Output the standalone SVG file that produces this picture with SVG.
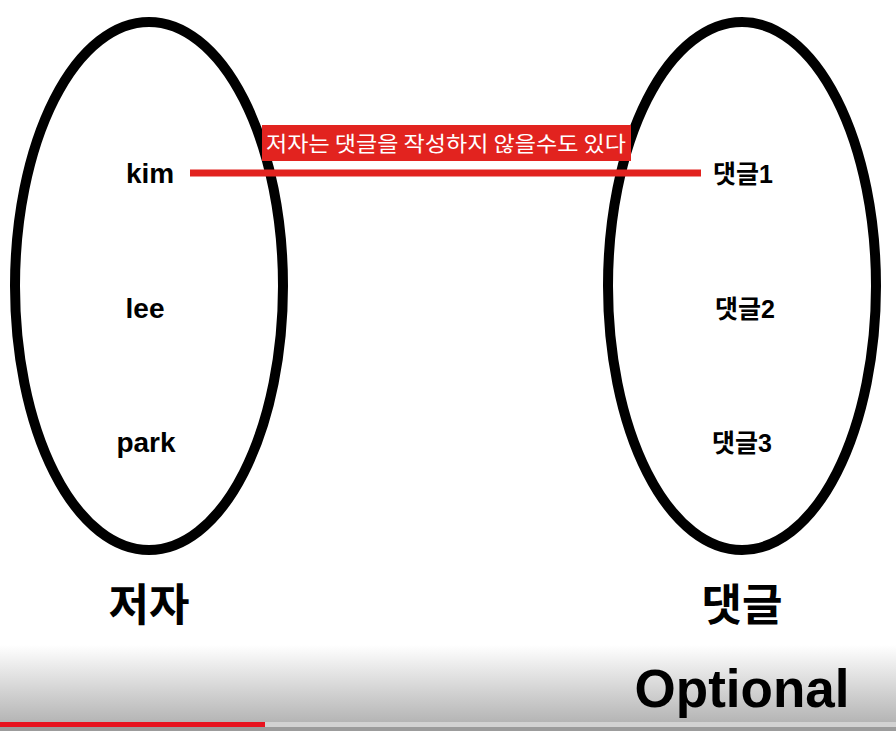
<svg xmlns="http://www.w3.org/2000/svg" width="896" height="731" viewBox="0 0 896 731">
<style>
.set{fill:none;stroke:#000;stroke-width:10}
.lbl{font-family:"Liberation Sans","Noto Sans CJK KR",sans-serif;font-weight:bold;fill:#000;text-anchor:middle}
.item{font-size:28px}
.kitem{font-size:25px}
.title{font-family:"Noto Sans CJK KR",sans-serif;font-weight:bold;font-size:44px;fill:#000;text-anchor:middle}
.note{font-family:"Noto Sans CJK KR",sans-serif;font-size:21px;fill:#fff;text-anchor:middle}
</style>
<defs>
<linearGradient id="shade" x1="0" y1="0" x2="0" y2="1">
<stop offset="0" stop-color="#ffffff"/>
<stop offset="1" stop-color="#b4b4b4"/>
</linearGradient>
</defs>
<rect width="896" height="731" fill="#fff"/>
<rect x="0" y="645" width="896" height="78" fill="url(#shade)"/>
<rect x="0" y="722" width="896" height="5" fill="#d2d2d2"/>
<rect x="0" y="722" width="265" height="5" fill="#e8131f"/>
<rect x="0" y="727" width="896" height="4" fill="#9c9c9c"/>
<g id="authors">
<ellipse class="set" cx="149" cy="286" rx="134" ry="264"/>
<text class="lbl item" x="150" y="183">kim</text>
<text class="lbl item" x="145" y="318">lee</text>
<text class="lbl item" x="146" y="452">park</text>
<text class="title" x="149" y="621">저자</text>
</g>
<g id="comments">
<ellipse class="set" cx="742" cy="286" rx="134" ry="264"/>
<text class="lbl kitem" x="743" y="183">댓글1</text>
<text class="lbl kitem" x="745" y="318">댓글2</text>
<text class="lbl kitem" x="742" y="452">댓글3</text>
<text class="title" x="742" y="621">댓글</text>
<text class="lbl" x="742" y="707" font-size="53">Optional</text>
</g>
<g id="connectors">
<line x1="190" y1="173" x2="701" y2="173" stroke="#e2231f" stroke-width="7"/>
<rect x="262" y="125" width="369" height="36" fill="#e2231f"/>
<text class="note" x="446" y="151" textLength="360" lengthAdjust="spacingAndGlyphs">저자는 댓글을 작성하지 않을수도 있다</text>
</g>
</svg>
